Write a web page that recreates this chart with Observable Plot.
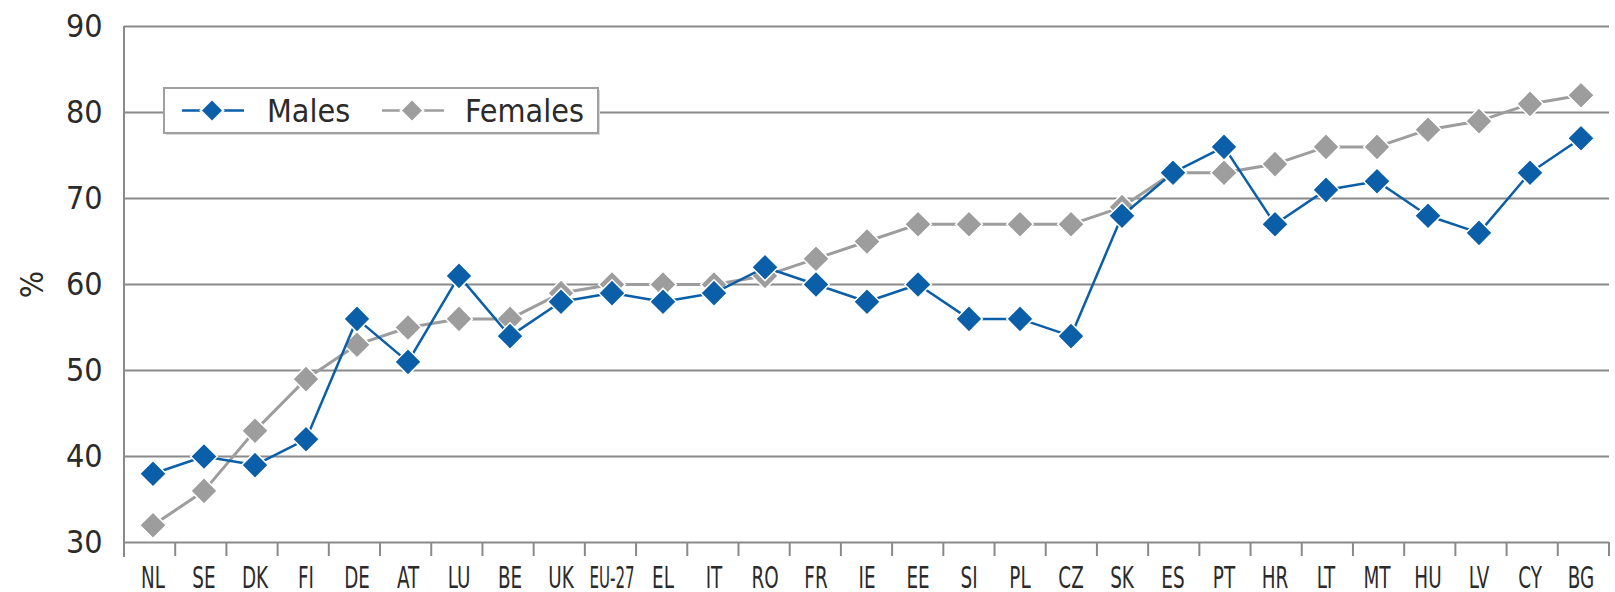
<!DOCTYPE html>
<html>
<head>
<meta charset="utf-8">
<script src="https://cdn.jsdelivr.net/npm/d3@7"></script>
<script src="https://cdn.jsdelivr.net/npm/@observablehq/plot@0.6"></script>
<style>
  html, body { margin: 0; padding: 0; background: #fff; }
  #wrap { position: relative; width: 1615px; height: 592px; }
  #legend { position: absolute; left: 163px; top: 87px; }
</style>
</head>
<body>
<div id="wrap"></div>
<script>
const categories = ["NL","SE","DK","FI","DE","AT","LU","BE","UK","EU-27","EL","IT","RO","FR","IE","EE","SI","PL","CZ","SK","ES","PT","HR","LT","MT","HU","LV","CY","BG"];
const males   = [38,40,39,42,56,51,61,54,58,59,58,59,62,60,58,60,56,56,54,68,73,76,67,71,72,68,66,73,77];
const females = [32,36,43,49,53,55,56,56,59,60,60,60,61,63,65,67,67,67,67,69,73,73,74,76,76,78,79,81,82];
const yTicks  = [30,40,50,60,70,80,90];
const seriesNames = ["Males","Females"];

const blue = "#0a5fa8", grey = "#9d9d9d", gridCol = "#8a8a8a", textCol = "#2b2b2b";
const FONT = "'DejaVu Sans Condensed', 'DejaVu Sans', sans-serif";

const maleRows = categories.map((c, i) => ({c, v: males[i]}));
const femaleRows = categories.map((c, i) => ({c, v: females[i]}));

const W = 1615, H = 592, ML = 124, MR = 6, MT = 26, MB = 50;

// frame: left axis line + boundary ticks under the baseline
function frameMark(index, scales, values, dims) {
  const g = d3.create("svg:g");
  const x0 = dims.marginLeft, x1 = dims.width - dims.marginRight;
  const yTop = dims.marginTop, yBot = dims.height - dims.marginBottom;
  const bw = (x1 - x0) / categories.length;
  g.append("line").attr("x1", x0).attr("x2", x0).attr("y1", yTop).attr("y2", yBot + 15)
    .attr("stroke", gridCol).attr("stroke-width", 2);
  for (let i = 1; i <= categories.length; i++) {
    const x = x0 + i * bw;
    g.append("line").attr("x1", x).attr("x2", x).attr("y1", yBot).attr("y2", yBot + 14)
      .attr("stroke", gridCol).attr("stroke-width", 2);
  }
  return g.node();
}

const chart = Plot.plot({
  width: W, height: H,
  marginLeft: ML, marginRight: MR, marginTop: MT, marginBottom: MB,
  style: {fontFamily: FONT, background: "white", overflow: "visible"},
  x: {type: "band", domain: categories, padding: 0},
  y: {domain: [30, 90]},
  marks: [
    Plot.ruleY(yTicks, {stroke: gridCol, strokeWidth: 2}),
    frameMark,
    Plot.axisY({ticks: yTicks, tickSize: 0, tickPadding: 22, fontSize: 32, fill: textCol,
      label: "%", labelAnchor: "center", labelArrow: "none", labelOffset: 104}),
    Plot.axisX({tickSize: 0, tickPadding: 24, fontSize: 30, fill: textCol, label: null}),
    Plot.lineY(femaleRows, {x: "c", y: "v", stroke: grey, strokeWidth: 3}),
    Plot.dot(femaleRows, {x: "c", y: "v", symbol: "diamond2", r: 12, fill: grey, stroke: "white", strokeWidth: 1.5}),
    Plot.lineY(maleRows, {x: "c", y: "v", stroke: blue, strokeWidth: 2.5}),
    Plot.dot(maleRows, {x: "c", y: "v", symbol: "diamond2", r: 12, fill: blue, stroke: "white", strokeWidth: 1.5})
  ]
});

const wrap = document.getElementById("wrap");
wrap.appendChild(chart);

// condense x tick labels (the original uses a narrow typeface)
const bandW = (W - ML - MR) / categories.length;
d3.select(chart).selectAll('g[aria-label="x-axis tick label"] text').each(function() {
  const len = this.getComputedTextLength();
  const target = Math.min(len * 0.68, bandW - 6);
  this.setAttribute("textLength", target.toFixed(1));
  this.setAttribute("lengthAdjust", "spacingAndGlyphs");
});

// legend overlay
const lg = d3.select(wrap).append("svg").attr("id", "legend")
  .attr("width", 440).attr("height", 50).style("overflow", "visible");
lg.append("rect").attr("x", 3).attr("y", 3).attr("width", 434).attr("height", 45).attr("fill", "#d9d9d9");
lg.append("rect").attr("x", 1).attr("y", 1).attr("width", 434).attr("height", 45)
  .attr("fill", "white").attr("stroke", "#a0a0a0").attr("stroke-width", 2);
const items = [
  {name: seriesNames[0], color: blue, lx: 19, cx: 49, tx: 104, lw: 2.5},
  {name: seriesNames[1], color: grey, lx: 219, cx: 249, tx: 302, lw: 2.5}
];
const cy = 23.5;
const dsym = d3.symbol(d3.symbolDiamond2, Math.PI * 9 * 9);
items.forEach(it => {
  lg.append("line").attr("x1", it.lx).attr("x2", it.lx + 62).attr("y1", cy).attr("y2", cy)
    .attr("stroke", it.color).attr("stroke-width", it.lw);
  lg.append("path").attr("d", dsym()).attr("transform", `translate(${it.cx},${cy})`)
    .attr("fill", it.color).attr("stroke", "white").attr("stroke-width", 4);
  lg.append("path").attr("d", dsym()).attr("transform", `translate(${it.cx},${cy})`)
    .attr("fill", it.color);
  lg.append("text").attr("x", it.tx).attr("y", cy).attr("dy", "0.36em")
    .attr("font-family", FONT).attr("font-size", 32).attr("fill", textCol).text(it.name);
});
</script>
</body>
</html>
